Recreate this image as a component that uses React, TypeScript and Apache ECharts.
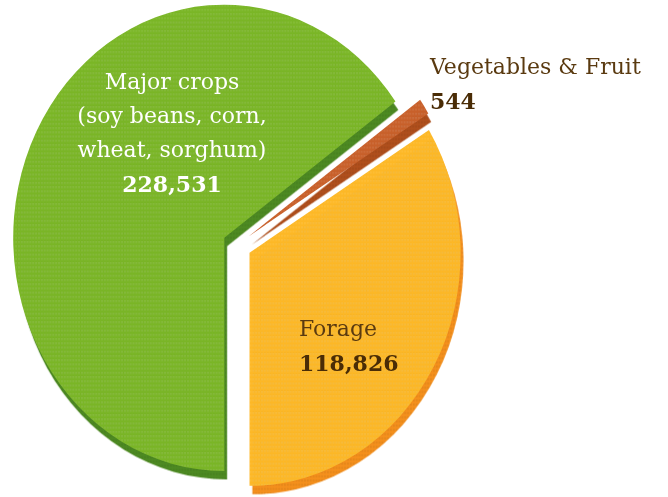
import React, { useEffect, useRef } from "react";
import * as echarts from "echarts";

// ---- data ----
const categories = ["Major crops", "Vegetables & Fruit", "Forage"];
const categoryLines = [
  ["Major crops", "(soy beans, corn,", "wheat, sorghum)"],
  ["Vegetables & Fruit"],
  ["Forage"],
];
const values = [228531, 544, 118826];

// ---- styles ----
const faceColors = ["#7ab626", "#c8602a", "#fdb827"];
const edgeColors = ["#4e8a24", "#b04f1f", "#f5901e"];
const textColors = ["#ffffff", "#5a3a10", "#5a3a10"];
const numberColors = ["#ffffff", "#4a2c06", "#4a2c06"];
const labelAnchors = [
  { x: 172, y: 133, align: "center" },
  { x: 430, y: 84, align: "left" },
  { x: 299, y: 346, align: "left" },
];
const FONT = "'DejaVu Serif', 'Liberation Serif', serif";

// the pie is slightly taller than wide: the chart box is stretched about its centre
const PIE_CENTER = [237, 245];
const SX = 0.955;
const SY = 1.055;

export default function App() {
  const ref = useRef<HTMLDivElement>(null);

  useEffect(() => {
    if (!ref.current) return;
    const chart = echarts.init(ref.current, undefined, { renderer: "svg" });

    const data = categories.map((name, i) => ({
      name,
      value: values[i],
      selected: true,
      itemStyle: {
        color: faceColors[i],
        shadowColor: edgeColors[i],
        shadowBlur: 0,
        shadowOffsetX: 3,
        shadowOffsetY: 8,
        decal: {
          symbol: "rect",
          symbolSize: 1,
          color: "rgba(255,255,255,0.07)",
          dashArrayX: [2, 1],
          dashArrayY: [2, 2],
          rotation: 0,
        },
      },
    }));

    // labels: counter-scaled so that the text itself is not stretched
    const labels = categories.map((_, i) => {
      const a = labelAnchors[i];
      const text =
        categoryLines[i].map((l) => `{t|${l}}`).join("\n") +
        `\n{n|${values[i].toLocaleString("en-US")}}`;
      return {
        type: "text",
        x: PIE_CENTER[0] + (a.x - PIE_CENTER[0]) / SX,
        y: PIE_CENTER[1] + (a.y - PIE_CENTER[1]) / SY,
        scaleX: 1 / SX,
        scaleY: 1 / SY,
        silent: true,
        z: 100,
        style: {
          text,
          x: 0,
          y: 0,
          align: a.align,
          verticalAlign: "middle",
          fontFamily: FONT,
          rich: {
            t: {
              fontFamily: FONT,
              fontSize: 22,
              lineHeight: 34,
              fill: textColors[i],
              color: textColors[i],
              align: a.align,
            },
            n: {
              fontFamily: FONT,
              fontSize: 22,
              fontWeight: "bold",
              lineHeight: 35,
              fill: numberColors[i],
              color: numberColors[i],
              align: a.align,
            },
          },
        },
      };
    });

    chart.setOption({
      animation: false,
      graphic: labels,
      series: [
        {
          type: "pie",
          center: PIE_CENTER,
          radius: [0, 221],
          startAngle: 270,
          clockwise: true,
          minAngle: 4,
          avoidLabelOverlap: false,
          selectedMode: "multiple",
          selectedOffset: 15,
          silent: true,
          emphasis: { disabled: true, scale: false },
          label: { show: false },
          labelLine: { show: false },
          data,
        },
      ],
    });

    return () => chart.dispose();
  }, []);

  return (
    <div
      ref={ref}
      style={{
        position: "fixed",
        left: 0,
        top: 0,
        width: 668,
        height: 497,
        background: "#ffffff",
        transform: `scale(${SX}, ${SY})`,
        transformOrigin: `${PIE_CENTER[0]}px ${PIE_CENTER[1]}px`,
      }}
    />
  );
}
